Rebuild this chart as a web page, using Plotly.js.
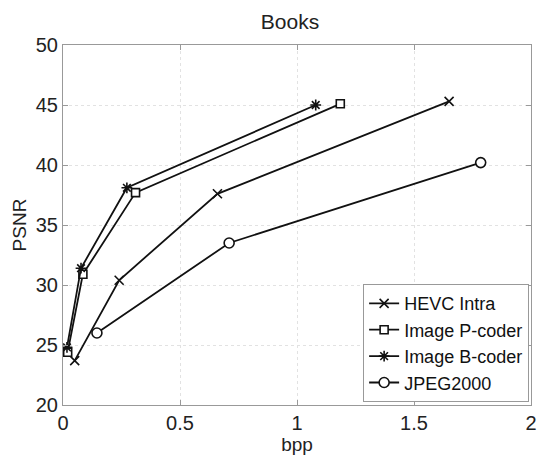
<!DOCTYPE html>
<html>
<head>
<meta charset="utf-8">
<script src="https://cdn.plot.ly/plotly-3.0.1.min.js"></script>
<style>html,body{margin:0;padding:0;background:#fff;}#chart{width:537px;height:457px;}</style>
</head>
<body>
<div id="chart"></div>
<script>
const seriesNames = ["HEVC Intra", "Image P-coder", "Image B-coder", "JPEG2000"];
const hevcX = [0.05, 0.24, 0.66, 1.65];
const hevcY = [23.7, 30.4, 37.6, 45.3];
const pcoderX = [0.02, 0.085, 0.31, 1.185];
const pcoderY = [24.4, 30.9, 37.7, 45.1];
const bcoderX = [0.017, 0.077, 0.273, 1.08];
const bcoderY = [24.8, 31.4, 38.1, 45.0];
const jpegX = [0.145, 0.71, 1.785];
const jpegY = [26.0, 33.5, 40.2];
const xTicks = [0, 0.5, 1, 1.5, 2];
const xTickText = ["0", "0.5", "1", "1.5", "2"];
const yTicks = [20, 25, 30, 35, 40, 45, 50];

const FONT = "Liberation Sans, Arial, sans-serif";
function tr(name, x, y, symbol, size, fill) {
  return {
    type: "scatter", mode: "lines+markers", name: name, x: x, y: y,
    line: {color: "#111", width: 1.8},
    marker: {symbol: symbol, size: size, color: fill, line: {color: "#111", width: 1.6}}
  };
}
const data = [
  tr(seriesNames[0], hevcX, hevcY, "x-thin-open", 9, "#111"),
  tr(seriesNames[1], pcoderX, pcoderY, "square", 8, "#fff"),
  tr(seriesNames[2], bcoderX, bcoderY, "asterisk-open", 9, "#111"),
  tr(seriesNames[3], jpegX, jpegY, "circle", 10, "#fff")
];
const axisCommon = {
  showline: true, linecolor: "#999", linewidth: 1, mirror: "ticks",
  ticks: "inside", ticklen: 5, tickcolor: "#999",
  showgrid: true, gridcolor: "#e2e2e2", griddash: "dot", gridwidth: 1,
  zeroline: false, tickfont: {family: FONT, size: 20, color: "#222"}
};
const layout = {
  width: 537, height: 457,
  margin: {l: 63, r: 6, t: 45, b: 52},
  paper_bgcolor: "#fff", plot_bgcolor: "#fff",
  font: {family: FONT, color: "#222"},
  title: {text: "Books", font: {family: FONT, size: 21, color: "#222"}, x: 0.54, xanchor: "center", y: 0.952, yanchor: "middle"},
  xaxis: Object.assign({}, axisCommon, {
    range: [0, 2], tickvals: xTicks, ticktext: xTickText,
    title: {text: "bpp", font: {family: FONT, size: 19, color: "#222"}, standoff: 2}
  }),
  yaxis: Object.assign({}, axisCommon, {
    range: [20, 50], tickvals: yTicks,
    title: {text: "PSNR", font: {family: FONT, size: 19, color: "#222"}, standoff: 4}
  }),
  showlegend: true,
  legend: {
    x: 0.996, y: 0.008, xanchor: "right", yanchor: "bottom",
    bgcolor: "#fff", bordercolor: "#999", borderwidth: 1,
    font: {family: FONT, size: 18, color: "#111"},
    itemwidth: 30, tracegroupgap: 0
  }
};
Plotly.newPlot("chart", data, layout, {displayModeBar: false, staticPlot: true});
</script>
</body>
</html>
